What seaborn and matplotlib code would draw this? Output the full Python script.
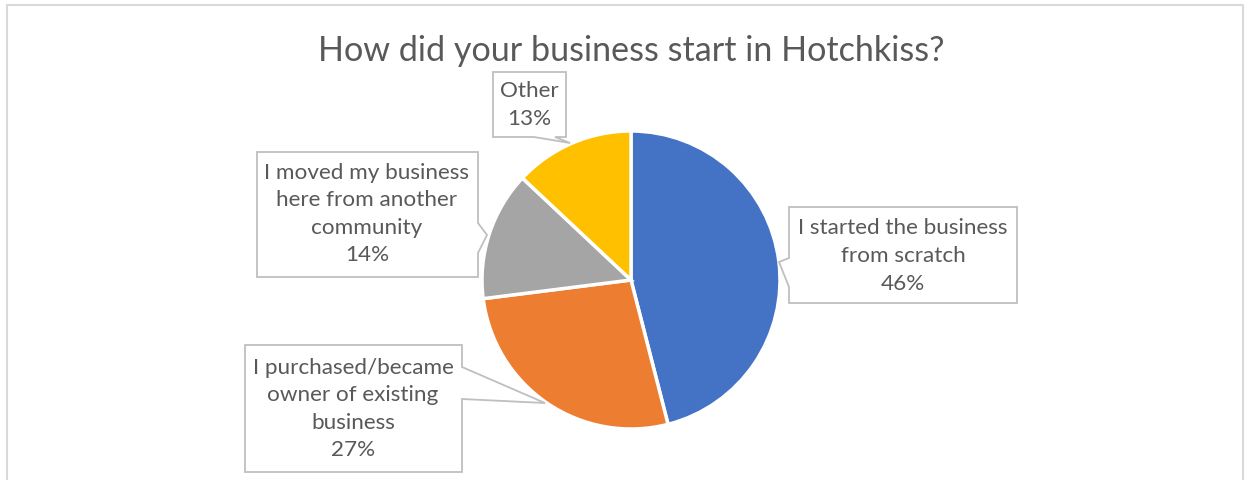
import matplotlib

matplotlib.use("Agg")

import matplotlib.pyplot as plt
import seaborn as sns
from matplotlib.lines import Line2D
from matplotlib.patches import Polygon

# data
categories = [
    "I started the business\nfrom scratch",
    "I purchased/became\nowner of existing\nbusiness",
    "I moved my business\nhere from another\ncommunity",
    "Other",
]
shares = [46, 27, 14, 13]
colors = ["#4472C4", "#ED7D31", "#A5A5A5", "#FFC000"]
title = "How did your business start in Hotchkiss?"

H = 480  # figure height in px, used to flip pixel y into data y

# callout shapes in pixel coords (box with a pointer), and label centre
callouts = [
    ([(789, 207), (1017, 207), (1017, 303), (789, 303), (789, 287), (779, 262), (789, 258)], (903, 256)),
    ([(245, 345), (462, 345), (462, 367), (545, 403), (462, 399), (462, 472), (245, 472)], (353, 409)),
    ([(257, 152), (478, 152), (478, 223), (487, 235), (478, 253), (478, 277), (257, 277)], (367, 214)),
    ([(493, 72), (566, 72), (566, 137), (555, 137), (570, 143), (534, 137), (493, 137)], (529, 105)),
]

sns.set_theme(style="white")
plt.rcParams["font.family"] = ["Lato", "DejaVu Sans"]
TEXT = "#595959"
EDGE = "#BFBFBF"

fig = plt.figure(figsize=(12.5, 4.8), dpi=100)
ax = fig.add_axes([0, 0, 1, 1])

ax.pie(
    shares,
    colors=colors,
    startangle=90,
    counterclock=False,
    center=(631, H - 280),
    radius=149,
    wedgeprops=dict(edgecolor="white", linewidth=2.5),
)
ax.set_xlim(0, 1250)
ax.set_ylim(0, H)
ax.axis("off")

for (pts, (tx, ty)), label, value in zip(callouts, categories, shares):
    poly = Polygon([(x, H - y) for x, y in pts], closed=True, facecolor="white",
                   edgecolor=EDGE, linewidth=1.3, zorder=3)
    ax.add_patch(poly)
    ax.text(tx, H - ty, f"{label}\n{value}%", ha="center", va="center",
            fontsize=16.2, color=TEXT, linespacing=1.47, zorder=4)

ax.text(631, H - 51, title, ha="center", va="center", fontsize=24.6, color=TEXT)

# chart area border (bottom edge falls outside the picture)
ax.add_line(Line2D([7, 7, 1243, 1243], [-5, H - 5, H - 5, -5], color="#D9D9D9", linewidth=1.5))

fig.savefig("out.png", dpi=100)
